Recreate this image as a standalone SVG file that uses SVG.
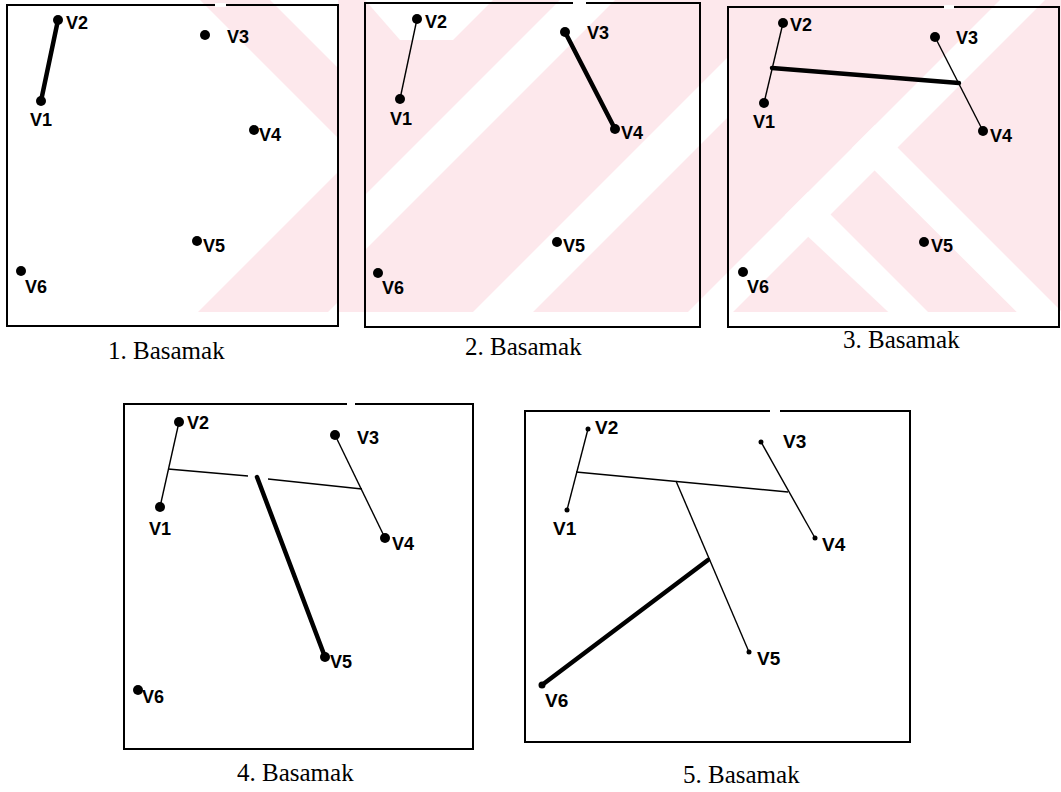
<svg xmlns="http://www.w3.org/2000/svg" width="1061" height="792" viewBox="0 0 1061 792">
<style>
.box{fill:none;stroke:#000;stroke-width:2}
.gap{stroke:#fff;stroke-width:4}
.thin{stroke:#000;stroke-width:1.4;fill:none}
.thick{stroke:#000;stroke-width:4.5;fill:none;stroke-linecap:round}
.lbl{font-family:"Liberation Sans",Arial,sans-serif;font-weight:bold;font-size:18px;fill:#000}
.lbl5{font-family:"Liberation Sans",Arial,sans-serif;font-weight:bold;font-size:19px;fill:#000}
.cap{font-family:"Liberation Serif","Times New Roman",serif;font-size:25px;fill:#000}
.wm{fill:#fde8ec}
.wh{fill:#fff}
</style>
<defs>
<clipPath id="wmclip"><rect x="150" y="0" width="911" height="312"/></clipPath>
</defs>
<rect width="1061" height="792" fill="#fff"/>
<g id="watermark" clip-path="url(#wmclip)">
<polygon class="wm" points="200,0 270,0 365,95 365,165"/>
<polygon class="wm" points="198,312 328,312 365,275 365,145"/>
<rect class="wm" x="338" y="0" width="390" height="312"/>
<polygon class="wh" points="365,0 493,0 453,40 400,40"/>
<polygon class="wh" points="560,0 615,0 365,250 365,195"/>
<polygon class="wh" points="473,312 533,312 728,117 728,57"/>
<rect class="wm" x="728" y="0" width="333" height="312"/>
<polygon class="wh" points="1000,0 1045,0 733,312 688,312"/>
<polygon class="wh" points="852,148 875,125 1061,311 1061,356"/>
<polygon class="wh" points="785,215 808,192 1003,387 968,387"/>
</g>

<g id="panel1">
<rect class="box" x="7" y="5" width="331" height="321"/>
<line class="gap" x1="215" y1="5" x2="226" y2="5"/>
<line class="thick" x1="41" y1="101" x2="58" y2="20"/>
<g id="p1-v1"><circle cx="41" cy="101" r="5"/><text class="lbl" x="30" y="126">V1</text></g>
<g id="p1-v2"><circle cx="58" cy="20" r="5"/><text class="lbl" x="66" y="29">V2</text></g>
<g id="p1-v3"><circle cx="205" cy="35" r="5"/><text class="lbl" x="227" y="43">V3</text></g>
<g id="p1-v4"><circle cx="254" cy="130" r="5"/><text class="lbl" x="259" y="141">V4</text></g>
<g id="p1-v5"><circle cx="197" cy="241" r="5"/><text class="lbl" x="203" y="252">V5</text></g>
<g id="p1-v6"><circle cx="21" cy="271" r="5"/><text class="lbl" x="25" y="293">V6</text></g>
<text class="cap" x="108" y="359">1. Basamak</text>
</g>

<g id="panel2">
<rect class="box" x="365" y="3" width="335" height="324"/>
<line class="gap" x1="573" y1="3" x2="586" y2="3"/>
<line class="thin" x1="400" y1="99" x2="417" y2="19"/>
<line class="thick" x1="565" y1="32" x2="615" y2="129"/>
<g id="p2-v1"><circle cx="400" cy="99" r="5"/><text class="lbl" x="390" y="125">V1</text></g>
<g id="p2-v2"><circle cx="417" cy="19" r="5"/><text class="lbl" x="425" y="28">V2</text></g>
<g id="p2-v3"><circle cx="565" cy="32" r="5"/><text class="lbl" x="587" y="39">V3</text></g>
<g id="p2-v4"><circle cx="615" cy="129" r="5"/><text class="lbl" x="621" y="139">V4</text></g>
<g id="p2-v5"><circle cx="557" cy="242" r="5"/><text class="lbl" x="563" y="252">V5</text></g>
<g id="p2-v6"><circle cx="378" cy="273" r="5"/><text class="lbl" x="382" y="294">V6</text></g>
<text class="cap" x="465" y="355">2. Basamak</text>
</g>

<g id="panel3">
<rect class="box" x="728" y="7" width="331" height="320"/>
<line class="gap" x1="944" y1="7" x2="954" y2="7"/>
<line class="thin" x1="764" y1="103" x2="783" y2="23"/>
<line class="thin" x1="935" y1="37" x2="983" y2="131"/>
<line class="thick" x1="772" y1="68" x2="959" y2="83"/>
<g id="p3-v1"><circle cx="764" cy="103" r="5"/><text class="lbl" x="753" y="128">V1</text></g>
<g id="p3-v2"><circle cx="783" cy="23" r="5"/><text class="lbl" x="790" y="31">V2</text></g>
<g id="p3-v3"><circle cx="935" cy="37" r="5"/><text class="lbl" x="956" y="44">V3</text></g>
<g id="p3-v4"><circle cx="983" cy="131" r="5"/><text class="lbl" x="990" y="142">V4</text></g>
<g id="p3-v5"><circle cx="924" cy="242" r="5"/><text class="lbl" x="931" y="252">V5</text></g>
<g id="p3-v6"><circle cx="743" cy="272" r="5"/><text class="lbl" x="747" y="293">V6</text></g>
<text class="cap" x="843" y="348">3. Basamak</text>
</g>

<g id="panel4">
<rect class="box" x="124" y="404" width="349" height="345"/>
<line class="gap" x1="347" y1="404" x2="355" y2="404"/>
<line class="thin" x1="160" y1="507" x2="179" y2="422"/>
<line class="thin" x1="335" y1="435" x2="385" y2="538"/>
<line class="thin" x1="168" y1="469" x2="248" y2="476"/>
<line class="thin" x1="268" y1="479" x2="362" y2="489"/>
<line class="thick" x1="257" y1="477" x2="325" y2="657"/>
<g id="p4-v1"><circle cx="160" cy="507" r="5"/><text class="lbl" x="149" y="535">V1</text></g>
<g id="p4-v2"><circle cx="179" cy="422" r="5"/><text class="lbl" x="187" y="429">V2</text></g>
<g id="p4-v3"><circle cx="335" cy="435" r="5"/><text class="lbl" x="357" y="444">V3</text></g>
<g id="p4-v4"><circle cx="385" cy="538" r="5"/><text class="lbl" x="392" y="550">V4</text></g>
<g id="p4-v5"><circle cx="325" cy="657" r="5"/><text class="lbl" x="330" y="668">V5</text></g>
<g id="p4-v6"><circle cx="138" cy="690" r="5"/><text class="lbl" x="142" y="703">V6</text></g>
<text class="cap" x="237" y="781">4. Basamak</text>
</g>

<g id="panel5">
<rect class="box" x="525" y="411" width="385" height="331"/>
<line class="gap" x1="770" y1="411" x2="780" y2="411"/>
<line class="thin" x1="567" y1="510" x2="588" y2="429"/>
<line class="thin" x1="761" y1="442" x2="815" y2="538"/>
<line class="thin" x1="576" y1="472" x2="788" y2="492"/>
<line class="thin" x1="676" y1="481" x2="749" y2="652"/>
<line class="thick" x1="542" y1="685" x2="708" y2="560"/>
<g id="p5-v1"><circle cx="567" cy="510" r="2.5"/><text class="lbl5" x="553" y="535">V1</text></g>
<g id="p5-v2"><circle cx="588" cy="429" r="2.5"/><text class="lbl5" x="595" y="434">V2</text></g>
<g id="p5-v3"><circle cx="761" cy="442" r="2.5"/><text class="lbl5" x="783" y="448">V3</text></g>
<g id="p5-v4"><circle cx="815" cy="538" r="2.5"/><text class="lbl5" x="822" y="551">V4</text></g>
<g id="p5-v5"><circle cx="749" cy="652" r="2.5"/><text class="lbl5" x="757" y="665">V5</text></g>
<g id="p5-v6"><circle cx="542" cy="685" r="3.5"/><text class="lbl5" x="545" y="707">V6</text></g>
<text class="cap" x="683" y="783">5. Basamak</text>
</g>
</svg>
